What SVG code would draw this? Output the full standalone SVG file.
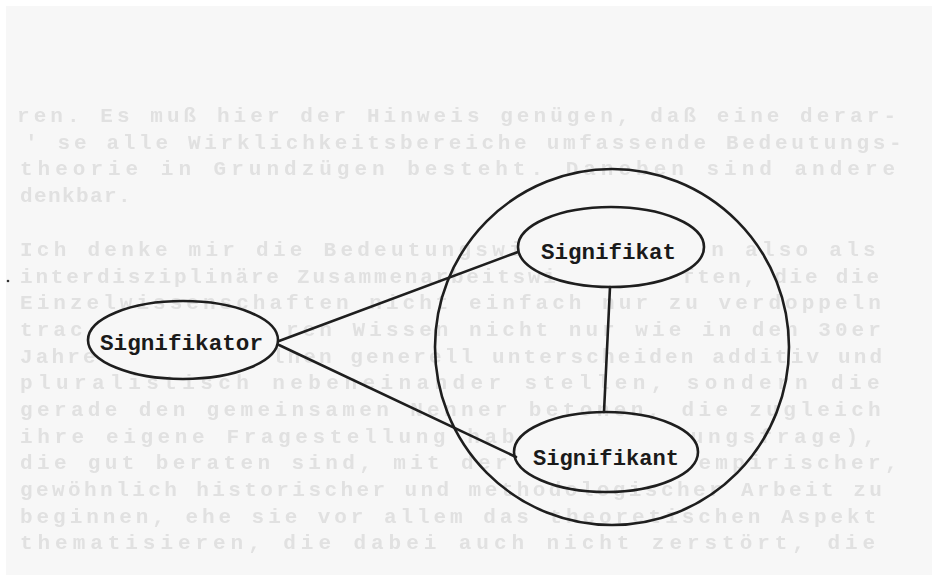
<svg xmlns="http://www.w3.org/2000/svg" width="932" height="575" viewBox="0 0 932 575">
<defs>
<filter id="soft" x="-5%" y="-20%" width="110%" height="140%"><feGaussianBlur stdDeviation="0.6"/></filter>
</defs>
<style>
.bg{font-family:"Liberation Mono","DejaVu Sans Mono",monospace;font-size:21px;font-weight:bold;fill:#e1e1e1}
.node ellipse{fill:none;stroke:#1e1e1e;stroke-width:2.6}
.lbl{font-family:"Liberation Mono","DejaVu Sans Mono",monospace;font-size:22px;font-weight:bold;fill:#1a1a1a}
.conn line{stroke:#1e1e1e;stroke-width:2.6;stroke-linecap:round}
</style>
<rect x="0" y="0" width="932" height="575" fill="#ffffff"/>
<rect x="6" y="6" width="926" height="569" fill="#f7f7f7"/>
<g id="bleed-through" filter="url(#soft)">
<text class="bg" x="17" y="122" letter-spacing="4.06">ren. Es muß hier der Hinweis genügen, daß eine derar-</text>
<text class="bg" x="25" y="149" letter-spacing="3.7">' se alle Wirklichkeitsbereiche umfassende Bedeutungs-</text>
<text class="bg" x="20" y="175" letter-spacing="5.0">theorie in Grundzügen besteht. Daneben sind andere</text>
<text class="bg" x="20" y="202" letter-spacing="1.4">denkbar.</text>
<text class="bg" x="20" y="256" letter-spacing="4.26">Ich denke mir die Bedeutungswi</text>
<text class="bg" x="711.3" y="256" letter-spacing="4.26">n also als</text>
<text class="bg" x="20" y="283" letter-spacing="2.79">interdisziplinäre Zusammenarbeitswi</text>
<text class="bg" x="681.8" y="283" letter-spacing="2.79">ften, die die</text>
<text class="bg" x="20" y="309" letter-spacing="4.03">Einzelwissenschaften nicht einfach nur zu verdoppeln</text>
<text class="bg" x="20" y="336" letter-spacing="4.03">trac</text>
<text class="bg" x="286.1" y="336" letter-spacing="4.03">ren Wissen nicht nur wie in den 30er</text>
<text class="bg" x="20" y="363" letter-spacing="3.13">Jahre</text>
<text class="bg" x="271.7" y="363" letter-spacing="3.13">lnen generell unterscheiden additiv und</text>
<text class="bg" x="20" y="389" letter-spacing="5.42">pluralistisch nebeneinander stellen, sondern die</text>
<text class="bg" x="20" y="416" letter-spacing="4.36">gerade den gemeinsamen Nenner betonen, die zugleich</text>
<text class="bg" x="20" y="443" letter-spacing="4.6">ihre eigene Fragestellung hab</text>
<text class="bg" x="690.8" y="443" letter-spacing="4.6">ungsfrage),</text>
<text class="bg" x="20" y="469" letter-spacing="4.36">die gut beraten sind, mit der</text>
<text class="bg" x="698.4" y="469" letter-spacing="4.36">empirischer,</text>
<text class="bg" x="20" y="496" letter-spacing="3.42">gewöhnlich historischer und methodologischer Arbeit zu</text>
<text class="bg" x="20" y="523" letter-spacing="3.94">beginnen, ehe sie vor allem das theoretischen Aspekt</text>
<text class="bg" x="20" y="549" letter-spacing="4.95">thematisieren, die dabei auch nicht zerstört, die</text>
</g>
<circle cx="8" cy="281" r="1.3" fill="#333"/>
<g id="circle-frame">
<ellipse cx="612" cy="347" rx="177" ry="178" fill="none" stroke="#1e1e1e" stroke-width="2.6"/>
</g>
<g class="conn" id="connectors">
<line x1="279" y1="341" x2="518" y2="252"/>
<line x1="279" y1="345" x2="516" y2="457"/>
<line x1="610" y1="287" x2="604" y2="412"/>
</g>
<g class="node" id="signifikator">
<ellipse cx="183" cy="340" rx="95" ry="39"/>
<text class="lbl" x="100" y="350" textLength="163" lengthAdjust="spacingAndGlyphs">Signifikator</text>
</g>
<g class="node" id="signifikat">
<ellipse cx="611" cy="247" rx="93" ry="40"/>
<text class="lbl" x="541" y="259" textLength="135" lengthAdjust="spacingAndGlyphs">Signifikat</text>
</g>
<g class="node" id="signifikant">
<ellipse cx="606" cy="452" rx="92" ry="40"/>
<text class="lbl" x="533" y="465" textLength="146" lengthAdjust="spacingAndGlyphs">Signifikant</text>
</g>
</svg>
